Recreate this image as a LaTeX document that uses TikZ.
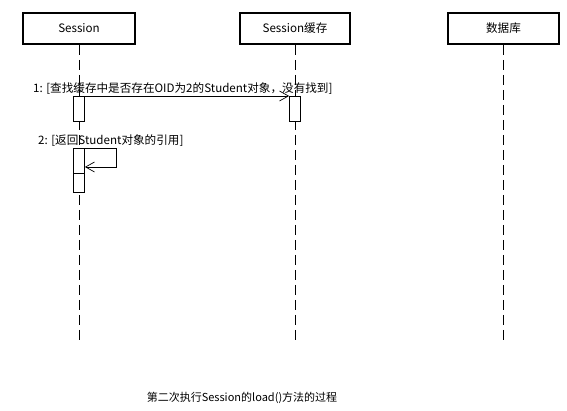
\documentclass[tikz,border=0pt]{standalone}
\usepackage{fontspec}
\setmainfont{Noto Sans CJK SC}
\usetikzlibrary{arrows.meta,positioning}

\begin{document}
\begin{tikzpicture}[x=1pt, y=-1pt,
    font=\fontsize{11.6}{13}\selectfont,
    >={Straight Barb[length=9pt,width=10pt]},
    head/.style={draw, line width=1.8pt, minimum height=31pt, inner sep=0pt},
    life/.style={draw, dash pattern=on 10pt off 5pt, line width=0.8pt},
    act/.style={draw, fill=white, line width=0.7pt, minimum width=11pt, inner sep=0pt, anchor=north},
    msg/.style={->, draw, line width=0.7pt},
    lbl/.style={inner sep=0pt, anchor=base west}]

\useasboundingbox (0,0) rectangle (567,411);

% objects
\node [head, minimum width=112pt] (sess) at (79,28.5) {Session};
\node [head, minimum width=110pt] (cache) at (295,28.5) {Session缓存};
\node [head, minimum width=111pt] (db) at (503.5,28.5) {数据库};

% lifelines
\coordinate (sessEnd) at (79,344);
\coordinate (cacheEnd) at (295,344);
\coordinate (dbEnd) at (503.5,344);
\draw [life] (sess.south) -- (sessEnd);
\draw [life] (cache.south) -- (cacheEnd);
\draw [life] (db.south) -- (dbEnd);

% activations
\node [act, minimum height=25pt] (act1) at (79,96) {};
\node [act, minimum height=25pt] (act2) at (295,96) {};
\node [act, minimum height=44pt] (act3) at (79,148) {};
\draw [line width=0.7pt] ([yshift=-25pt]act3.north west) -- ([yshift=-25pt]act3.north east);

% messages
\draw [msg] (act1.north east) -- (act2.north west);
\node [lbl] (m1) at (33,93) {1: [查找缓存中是否存在OID为2的Student对象，没有找到]};
\draw [msg] (act3.north east) -- ++(31,0) |- ([yshift=-19pt]act3.north east);
\node [lbl] (m2) at (38,145) {2: [返回Student对象的引用]};

% caption
\node [font=\fontsize{11}{13}\selectfont] (cap) at (242,398) {第二次执行Session的load()方法的过程};

\end{tikzpicture}
\end{document}
